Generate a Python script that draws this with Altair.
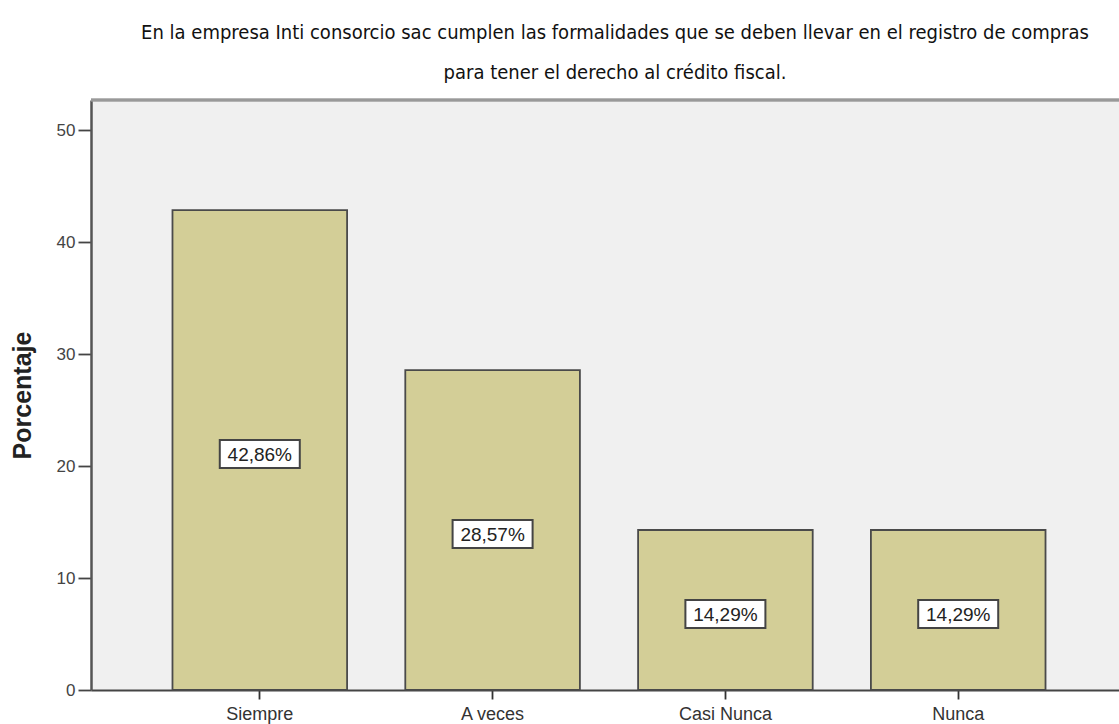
import altair as alt
import pandas as pd

categories = ["Siempre", "A veces", "Casi Nunca", "Nunca"]
values = [42.86, 28.57, 14.29, 14.29]
labels = ["42,86%", "28,57%", "14,29%", "14,29%"]
y_ticks = [0, 10, 20, 30, 40, 50]

df = pd.DataFrame({"cat": categories, "val": values, "lab": labels})

x_enc = alt.X("cat:N", sort=categories,
              scale=alt.Scale(paddingInner=0.25, paddingOuter=0.35, range=[0, 1036]),
              axis=alt.Axis(title=None, labelAngle=0, labelFont="Liberation Sans",
                            labelFontSize=18, labelColor="#333333", labelPadding=6,
                            tickColor="#333333", tickSize=9, tickWidth=1.8,
                            domainColor="#444444", domainWidth=2))
y_scale = alt.Scale(domain=[0, 52.7], nice=False)

bars = alt.Chart(df).mark_bar(fill="#D3CE97", stroke="#4a4a4a", strokeWidth=1.8).encode(
    x=x_enc,
    y=alt.Y("val:Q", scale=y_scale,
            axis=alt.Axis(title="Porcentaje", values=y_ticks, titleFont="Liberation Sans",
                          titleFontSize=25, titleFontWeight="bold", titleColor="#222222",
                          titlePadding=21, labelFont="Liberation Sans", labelFontSize=17,
                          labelColor="#444444", tickColor="#444444", tickSize=13,
                          tickWidth=1.8, domainColor="#555555", domainWidth=2.5,
                          grid=False, labelPadding=3)),
)

boxes = alt.Chart(df).transform_calculate(
    lo="datum.val/2 - 1.6", hi="datum.val/2 + 0.9"
).mark_bar(width=80, fill="white", stroke="#444444", strokeWidth=2).encode(
    x=alt.X("cat:N", sort=categories),
    y=alt.Y("lo:Q", scale=y_scale),
    y2="hi:Q",
)

texts = alt.Chart(df).transform_calculate(
    mid="datum.val/2"
).mark_text(font="Liberation Sans", fontSize=19, color="#222222", dy=5).encode(
    x=alt.X("cat:N", sort=categories),
    y=alt.Y("mid:Q", scale=y_scale),
    text="lab:N",
)

top_line = alt.Chart(df).mark_rule(color="#999999", strokeWidth=2.5).encode(
    y=alt.value(0), x=alt.value(0), x2=alt.value(1028)
)

chart = alt.layer(bars, boxes, texts, top_line).properties(
    width=1028, height=590,
    title=alt.TitleParams(
        ["En la empresa Inti consorcio sac cumplen las formalidades que se deben llevar en el registro de compras",
         "para tener el derecho al crédito fiscal."],
        font="DejaVu Sans Condensed, Liberation Sans Narrow, sans-serif", fontSize=20,
        fontWeight="normal", color="#111111", lineHeight=40, anchor="middle", offset=16, dx=10),
    autosize=alt.AutoSizeParams(type="none"),
    padding={"left": 91, "top": 100, "right": 0, "bottom": 34},
).configure(background="white").configure_view(fill="#F0F0F0", stroke=None)

chart.save("out.html", embed_options={"renderer": "svg", "actions": False})
